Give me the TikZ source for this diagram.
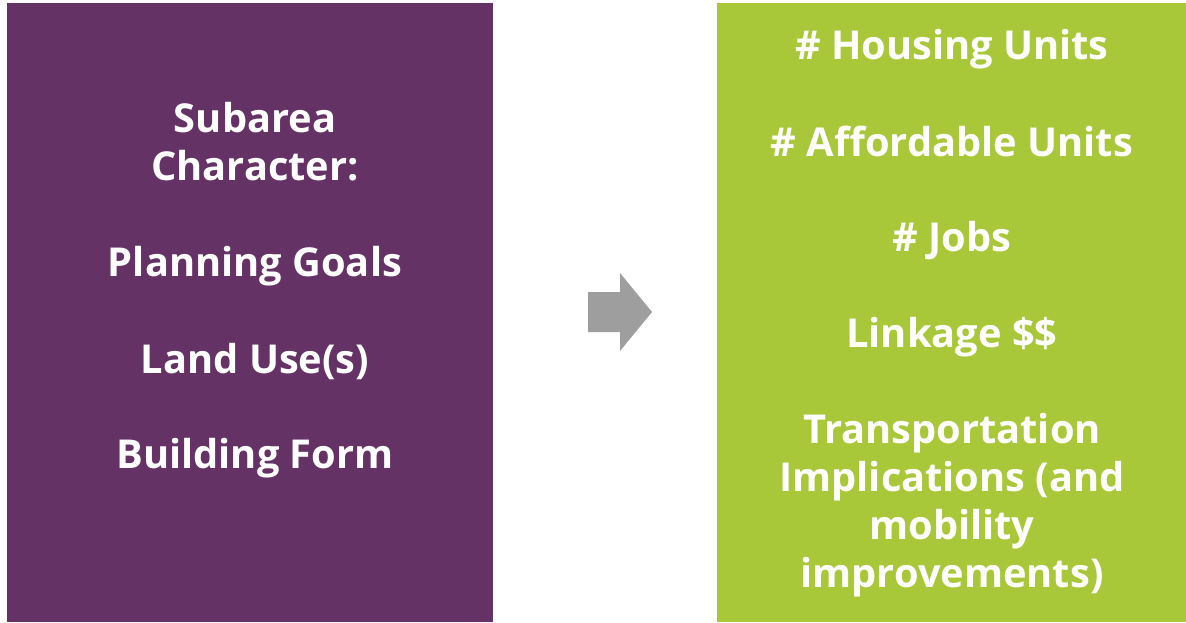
\documentclass[tikz,border=0pt]{standalone}
\usepackage{fontspec}
\setmainfont{Open Sans}
\definecolor{plum}{HTML}{643264}
\definecolor{lime}{HTML}{A8C83A}
\definecolor{arrowgray}{HTML}{9E9E9E}
\begin{document}
\begin{tikzpicture}[x=1pt,y=-1pt,
  panel/.style={anchor=north west, inner sep=0pt, minimum height=619pt},
  lbl/.style={text=white, font=\fontsize{39.8}{48}\selectfont\bfseries, align=center, inner sep=0pt}]
\useasboundingbox (0,0) rectangle (1186,622);
\fill[white] (0,0) rectangle (1186,622);
% two panels
\node[panel, fill=plum, minimum width=486pt] (inputs) at (7,3) {};
\node[panel, fill=lime, minimum width=469pt] (outputs) at (717,3) {};
% left panel text
\node[lbl] (subarea) at (255,142) {Subarea\\Character:};
\node[lbl] (goals) at (255,266) {Planning Goals};
\node[lbl] (landuse) at (255,362) {Land Use(s)};
\node[lbl] (form) at (255,458) {Building Form};
% right panel text
\node[lbl] (housing) at (952,49) {\# Housing Units};
\node[lbl] (afford) at (952,141) {\# Affordable Units};
\node[lbl] (jobs) at (952,241) {\# Jobs};
\node[lbl] (linkage) at (952,337) {Linkage \$\$};
\node[lbl] (transport) at (952,505) {Transportation\\Implications (and\\mobility\\improvements)};
% block arrow between the panels
\fill[arrowgray] (588,292) -- (620,292) -- (620,273) -- (652,312) -- (620,351) -- (620,332) -- (588,332) -- cycle;
\end{tikzpicture}
\end{document}
